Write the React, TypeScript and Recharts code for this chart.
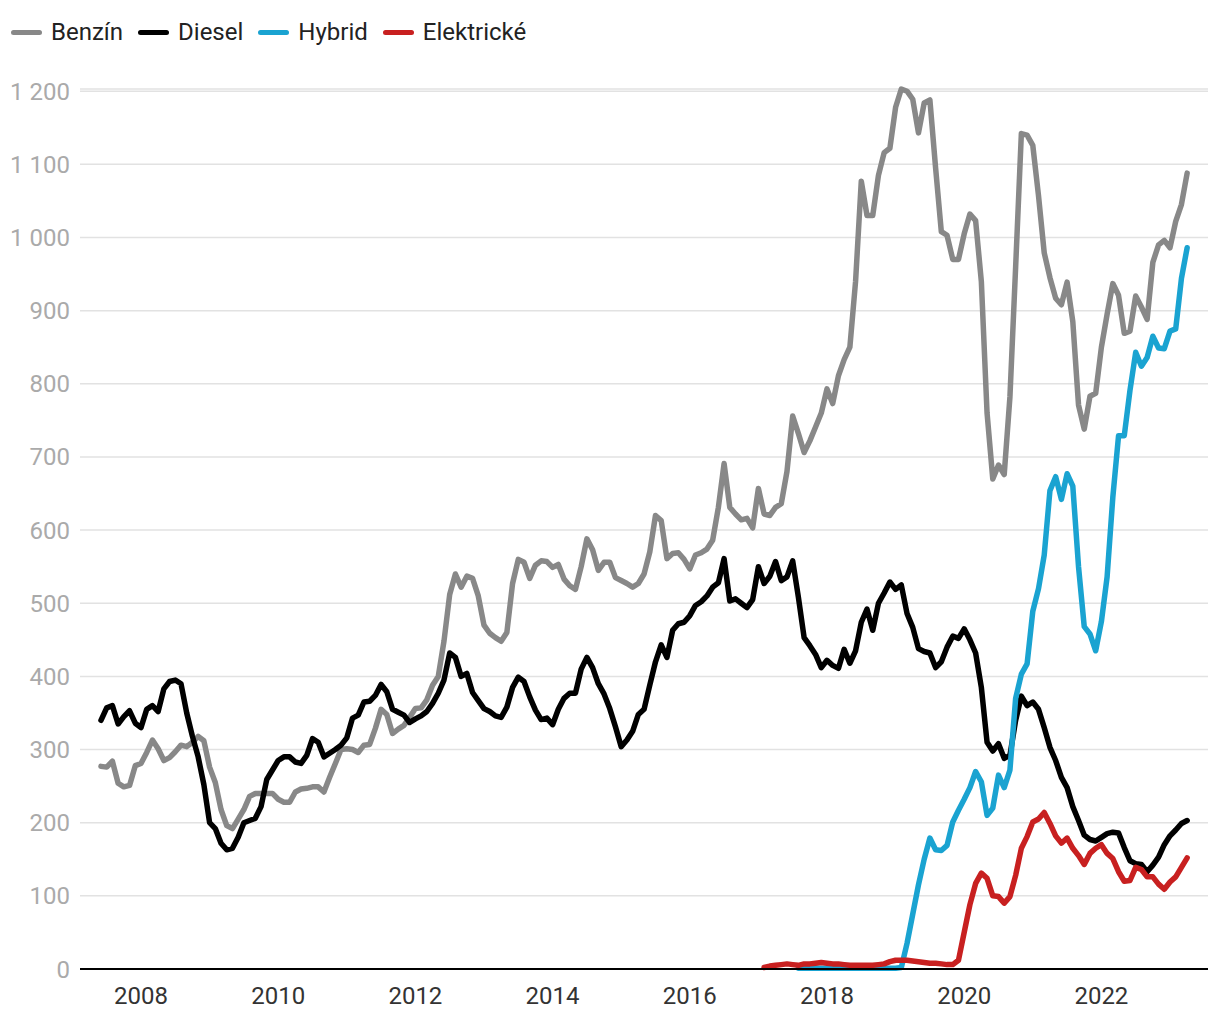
import { CartesianGrid, Line, LineChart, XAxis, YAxis } from "recharts";

// monthly registrations, June 2007 .. April 2023
const START_YEAR = 2007;
const START_MONTH = 6;

const benzin = [
  277, 276, 284, 254, 249, 251, 278,
  281, 296, 313, 301, 285, 289, 297, 306, 304, 310, 318, 312,
  276, 255, 218, 196, 192, 205, 218, 236, 240, 240, 240, 240,
  232, 228, 228, 242, 246, 247, 249, 249, 242, 262, 281, 300,
  301, 300, 296, 306, 307, 329, 355, 348, 322, 328, 333, 344,
  356, 357, 368, 388, 400, 448, 512, 540, 522, 537, 534, 510,
  470, 459, 453, 448, 460, 527, 560, 556, 534, 552, 558, 557,
  549, 553, 533, 524, 519, 550, 588, 573, 545, 556, 556, 535,
  531, 527, 522, 527, 540, 570, 620, 613, 561, 568, 569, 560,
  547, 566, 569, 574, 586, 631, 691, 631, 622, 614, 616, 603,
  657, 622, 620, 631, 636, 680, 756, 732, 706, 722, 741, 760,
  793, 773, 811, 833, 850, 940, 1077, 1030, 1030, 1085, 1116, 1122,
  1178, 1203, 1200, 1189, 1143, 1184, 1188, 1095, 1008, 1003, 970, 970,
  1005, 1032, 1023, 940, 760, 670, 689, 676, 782, 960, 1142, 1140,
  1126, 1057, 979, 945, 917, 908, 939, 885, 771, 738, 783, 787,
  850, 895, 937, 921, 869, 872, 920, 905, 888, 966, 990, 996,
  986, 1022, 1045, 1088,
];

const diesel = [
  340, 357, 360, 335, 345, 353, 336,
  330, 355, 360, 352, 383, 393, 395, 390, 350, 318, 290, 252,
  200, 192, 172, 163, 165, 180, 200, 203, 206, 222, 259, 272,
  285, 290, 290, 283, 281, 292, 315, 310, 290, 295, 300, 306,
  316, 343, 347, 365, 366, 374, 389, 379, 355, 351, 347, 337,
  342, 346, 352, 363, 377, 395, 432, 426, 400, 404, 378, 367,
  356, 352, 346, 344, 358, 385, 399, 393, 372, 354, 341, 343,
  334, 355, 370, 377, 377, 410, 426, 412, 390, 376, 356, 331,
  304, 313, 325, 348, 355, 388, 420, 443, 426, 463, 472, 474,
  483, 497, 502, 510, 522, 528, 561, 503, 506, 500, 494, 505,
  550, 527, 537, 557, 531, 536, 558, 508, 453, 442, 430, 412,
  422, 415, 411, 437, 418, 435, 474, 492, 463, 500, 514, 529,
  519, 525, 486, 467, 438, 434, 432, 412, 420, 440, 455, 452,
  465, 450, 432, 385, 310, 298, 308, 288, 292, 340, 373, 360,
  365, 355, 330, 303, 285, 262, 248, 222, 203, 183, 177, 175,
  180, 185, 187, 186, 166, 148, 144, 143, 133, 142, 153, 170,
  182, 190, 199, 203,
];

// hybrid from August 2017
const HYBRID_START = { year: 2017, month: 8 };
const hybrid = [
  1, 1, 1, 1, 1,
  1, 1, 1, 1, 1, 1, 1, 1, 1, 1, 1, 1,
  1, 2, 35, 75, 115, 150, 179, 163, 162, 169, 201, 217,
  232, 248, 270, 256, 210, 220, 265, 248, 272, 370, 403, 417,
  489, 520, 566, 654, 673, 642, 677, 660, 550, 468, 458, 435,
  475, 536, 645, 729, 729, 791, 843, 824, 836, 865, 849, 848,
  872, 875, 944, 986,
];

// electric from February 2017
const ELEKTRICKE_START = { year: 2017, month: 2 };
const elektricke = [
  2, 4, 5, 6, 7, 6, 5, 7, 7, 8, 9,
  8, 7, 7, 6, 5, 5, 5, 5, 5, 6, 7, 10,
  12, 12, 12, 11, 10, 9, 8, 8, 7, 6, 6, 12,
  50, 88, 117, 131, 124, 100, 99, 90, 99, 128, 165, 181,
  201, 205, 214, 199, 182, 172, 179, 165, 155, 143, 158, 165,
  170, 158, 151, 133, 120, 121, 139, 136, 126, 126, 116, 109,
  119, 126, 139, 152,
];

const yTicks = [0, 100, 200, 300, 400, 500, 600, 700, 800, 900, 1000, 1100, 1200];
const xTicks = [2008, 2010, 2012, 2014, 2016, 2018, 2020, 2022];

const series = [
  { key: "benzin", name: "Benzín", color: "#888888" },
  { key: "diesel", name: "Diesel", color: "#000000" },
  { key: "hybrid", name: "Hybrid", color: "#1aa3d1" },
  { key: "elektricke", name: "Elektrické", color: "#c82020" },
];

const offset = (s: { year: number; month: number }) => (s.year - START_YEAR) * 12 + (s.month - START_MONTH);
const hybridOff = offset(HYBRID_START);
const elekOff = offset(ELEKTRICKE_START);

const rows = benzin.map((b, i) => ({
  t: START_YEAR + (START_MONTH - 1 + i) / 12,
  benzin: b,
  diesel: diesel[i],
  hybrid: i >= hybridOff ? hybrid[i - hybridOff] : null,
  elektricke: i >= elekOff ? elektricke[i - elekOff] : null,
}));

const fmtY = (v: number) => (v >= 1000 ? `${Math.floor(v / 1000)} ${String(v % 1000).padStart(3, "0")}` : String(v));

const FONT = "Roboto, 'Noto Sans', sans-serif";

export default function App() {
  return (
    <div style={{ position: "relative", width: 1212, height: 1012, fontFamily: FONT }}>
      <div style={{ position: "absolute", left: 3, top: 9, display: "flex", alignItems: "center", height: 30 }}>
        {series.map((s) => (
          <div key={s.key} style={{ display: "flex", alignItems: "center", marginRight: 15 }}>
            <span style={{ display: "inline-block", width: 31, height: 5, borderRadius: 3, background: s.color, marginRight: 9 }} />
            <span style={{ fontSize: 24, color: "#222" }}>{s.name}</span>
          </div>
        ))}
      </div>
      <LineChart width={1212} height={1012} data={rows} margin={{ top: 81, right: 12, bottom: 21, left: 0 }}>
        <CartesianGrid vertical={false} stroke="#e2e2e2" strokeWidth={1.5} />
        <XAxis
          dataKey="t"
          type="number"
          domain={[2007.111, 2023.554]}
          allowDataOverflow
          ticks={xTicks}
          height={30}
          tickLine={false}
          tickSize={10}
          tickMargin={8}
          axisLine={{ stroke: "#000", strokeWidth: 2 }}
          tick={{ fill: "#333", fontSize: 24, fontFamily: FONT }}
        />
        <YAxis
          width={72}
          domain={[0, 1200]}
          ticks={yTicks}
          tickFormatter={fmtY}
          axisLine={false}
          tickLine={false}
          tickSize={8}
          tickMargin={2}
          tick={{ fill: "#aaa", fontSize: 24, fontFamily: FONT }}
        />
        {series.map((s) => (
          <Line
            key={s.key}
            type="linear"
            dataKey={s.key}
            name={s.name}
            stroke={s.color}
            strokeWidth={5.5}
            strokeLinejoin="round"
            strokeLinecap="round"
            dot={false}
            activeDot={false}
            isAnimationActive={false}
          />
        ))}
      </LineChart>
    </div>
  );
}
